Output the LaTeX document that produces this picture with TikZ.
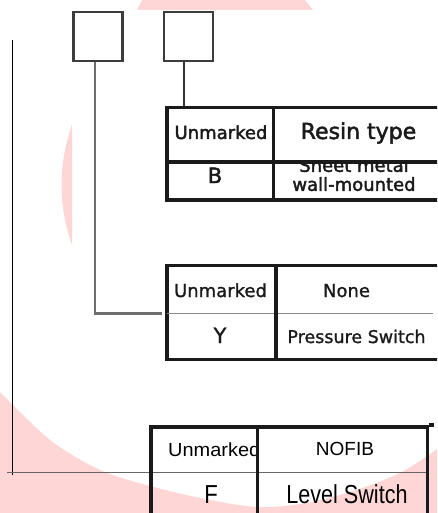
\documentclass[tikz,border=0pt]{standalone}
\usepackage{fontspec}
\usepackage{graphicx}
\usepackage{tikz}
\usepackage{xcolor}
\newfontfamily\lucface[FakeBold=2.2]{DejaVu Sans}
\newfontfamily\lucthin[FakeBold=1.2]{DejaVu Sans}
\newfontfamily\arface{Liberation Sans}
\usetikzlibrary{positioning,calc}
\definecolor{swink}{HTML}{1A1A1A}
\definecolor{swgray}{HTML}{3C3C3C}
\definecolor{swlead}{HTML}{6E6E6E}
\definecolor{swrule}{HTML}{8A8A8A}
\definecolor{swpink}{HTML}{FFD6D6}
\tikzset{
  codeBox/.style={draw=swgray, line width=2.1pt, minimum size=49pt, inner sep=0pt},
  tabFrame/.style={draw=swink, line width=3.5pt, inner sep=0pt, anchor=north west},
  tabRule/.style={draw=swink, line width=3.5pt},
  thinRule/.style={draw=swrule, line width=1.8pt},
  baseRule/.style={draw=black!60, line width=0.9pt},
  leadLine/.style={draw=swlead, line width=2.2pt},
  stemLine/.style={draw=black!80, line width=1.3pt},
  axisLine/.style={draw=black, line width=0.9pt},
  lucLabel/.style={font=\lucface\fontsize{18}{18}\selectfont, text=swink, inner sep=0pt, anchor=base},
  lucLabelB/.style={font=\lucthin\fontsize{18}{18}\selectfont, text=swink, inner sep=0pt, anchor=base},
  arLabel/.style={font=\arface\fontsize{18}{18}\selectfont, text=black, inner sep=0pt, anchor=base}
}

\begin{document}
\begin{tikzpicture}[x=1pt, y=-1pt, node distance=39pt]
  \useasboundingbox (0,0) rectangle (437,513);
  \clip (0,0) rectangle (437,513);

  \fill[swpink] (142,0) -- (305,0) -- (313,10) -- (137,10) -- cycle;
  \fill[swpink] (72,125) .. controls (58,165) and (58,205) .. (72,245) -- cycle;
  \fill[swpink] plot[smooth] coordinates {(0,392) (50,440) (100,470) (150,486) (205,499) (257,507) (300,504) (350,492) (400,473) (437,449)} -- (437,513) -- (0,513) -- cycle;

  \coordinate (axisTop) at (12,40);
  \coordinate (axisFoot) at (12,475);
  \coordinate (baseLeft) at (7,472);
  \coordinate (baseRight) at (428,472);
  \draw[axisLine] (axisTop) -- (axisFoot);
  \draw[baseRule] (baseLeft) -- (baseRight);

  \node[codeBox] (boxA) at (98,36.5) {};
  \node[codeBox, right=of boxA] (boxB) {};

  \node[tabFrame, minimum width=300pt, minimum height=92pt] (tabA) at (165,106) {};
  \node[tabFrame, minimum width=300pt, minimum height=94pt] (tabB) at (165,263.5) {};
  \node[tabFrame, minimum width=276.5pt, minimum height=120pt] (tabC) at (149,425) {};

  \draw[leadLine] ([xshift=-3pt]boxA.south) |- ([xshift=-3pt,yshift=-50pt]tabB.north west);
  \draw[stemLine] ([xshift=-4pt]boxB.south) -- ([xshift=-4pt]boxB.south |- tabA.north);

  \node[lucLabel] (aHead) at (221,139) {Unmarked};
  \node[lucLabel, font=\lucface\fontsize{22}{22}\selectfont] (aType) at (358.5,139) {Resin type};
  \node[lucLabel, font=\lucface\fontsize{21}{21}\selectfont] (aCode) at (215,183) {B};
  \begin{scope}
    \clip ([yshift=-56pt]tabA.north west) rectangle (tabA.south east);
    \node[lucLabel, anchor=center, align=center, font=\lucface\fontsize{18}{19}\selectfont] (aText) at (354,174.6) {Sheet metal\\wall-mounted};
  \end{scope}

  \node[lucLabelB] (bHead) at (220.5,297) {Unmarked};
  \node[lucLabelB, font=\lucthin\fontsize{18}{18}\selectfont] (bType) at (346.5,297) {None};
  \node[lucLabelB, font=\lucthin\fontsize{21}{21}\selectfont] (bCode) at (220,343) {Y};
  \node[lucLabelB, font=\lucthin\fontsize{17.5}{17.5}\selectfont] (bText) at (356.5,343) {Pressure Switch};

  \begin{scope}
    \clip (tabC.north west) rectangle ([xshift=108.5pt]tabC.south west);
    \node[arLabel, anchor=base west, font=\arface\fontsize{19}{19}\selectfont] (cHead) at (168,456) {\scalebox{1.05}[1]{Unmarked}};
  \end{scope}
  \node[arLabel, font=\arface\fontsize{19}{19}\selectfont] (cType) at (345,455) {NOFIB};
  \node[arLabel, font=\arface\fontsize{26}{26}\selectfont] (cCode) at (211,503) {\scalebox{0.85}[1]{F}};
  \node[arLabel, font=\arface\fontsize{26}{26}\selectfont] (cText) at (347,503) {\scalebox{0.83}[1]{Level Switch}};

  \draw[tabRule] ([xshift=108.5pt]tabA.north west) -- ([xshift=108.5pt]tabA.south west);
  \draw[tabRule] ([yshift=-56pt]tabA.north west) -- ([yshift=-56pt]tabA.north east);
  \draw[thinRule] ([xshift=2pt,yshift=-50pt]tabB.north west) -- ++(266,0);
  \draw[tabRule] ([xshift=111pt]tabB.north west) -- ([xshift=111pt]tabB.south west);
  \draw[tabRule] ([xshift=108.5pt]tabC.north west) -- ([xshift=108.5pt]tabC.south west);
  \draw[tabRule] (tabC.north east) -- ++(5,0);
\end{tikzpicture}
\end{document}
